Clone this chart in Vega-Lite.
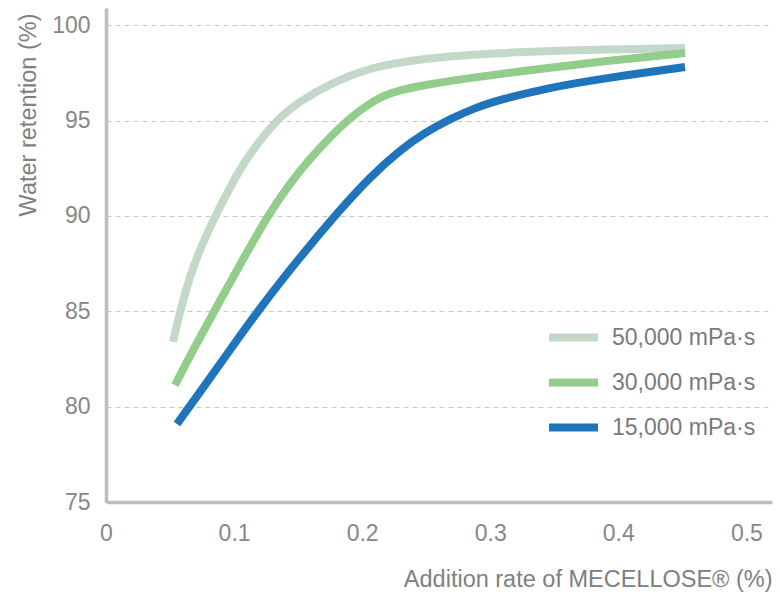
{
  "$schema": "https://vega.github.io/schema/vega-lite/v6.json",
  "width": 666,
  "height": 494,
  "autosize": {"type": "none"},
  "padding": {"left": 106, "top": 8, "right": 8, "bottom": 105},
  "background": "white",
  "config": {
    "view": {"stroke": null},
    "font": "Liberation Sans"
  },
  "data": {
    "values": [
      {"s": "50,000 mPa·s", "x": 0.0523, "y": 83.39},
      {"s": "50,000 mPa·s", "x": 0.0578, "y": 85.01},
      {"s": "50,000 mPa·s", "x": 0.0656, "y": 86.85},
      {"s": "50,000 mPa·s", "x": 0.0734, "y": 88.26},
      {"s": "50,000 mPa·s", "x": 0.0867, "y": 90.2},
      {"s": "50,000 mPa·s", "x": 0.1007, "y": 91.99},
      {"s": "50,000 mPa·s", "x": 0.1124, "y": 93.3},
      {"s": "50,000 mPa·s", "x": 0.1343, "y": 95.13},
      {"s": "50,000 mPa·s", "x": 0.1515, "y": 96.02},
      {"s": "50,000 mPa·s", "x": 0.1772, "y": 97.02},
      {"s": "50,000 mPa·s", "x": 0.2038, "y": 97.7},
      {"s": "50,000 mPa·s", "x": 0.2296, "y": 98.07},
      {"s": "50,000 mPa·s", "x": 0.2686, "y": 98.38},
      {"s": "50,000 mPa·s", "x": 0.3076, "y": 98.54},
      {"s": "50,000 mPa·s", "x": 0.3467, "y": 98.65},
      {"s": "50,000 mPa·s", "x": 0.3857, "y": 98.72},
      {"s": "50,000 mPa·s", "x": 0.4521, "y": 98.8},
      {"s": "30,000 mPa·s", "x": 0.0539, "y": 81.13},
      {"s": "30,000 mPa·s", "x": 0.0671, "y": 82.86},
      {"s": "30,000 mPa·s", "x": 0.0867, "y": 85.28},
      {"s": "30,000 mPa·s", "x": 0.107, "y": 87.74},
      {"s": "30,000 mPa·s", "x": 0.128, "y": 90.2},
      {"s": "30,000 mPa·s", "x": 0.1437, "y": 91.7},
      {"s": "30,000 mPa·s", "x": 0.1569, "y": 92.82},
      {"s": "30,000 mPa·s", "x": 0.1749, "y": 94.14},
      {"s": "30,000 mPa·s", "x": 0.1905, "y": 95.13},
      {"s": "30,000 mPa·s", "x": 0.2038, "y": 95.81},
      {"s": "30,000 mPa·s", "x": 0.2163, "y": 96.29},
      {"s": "30,000 mPa·s", "x": 0.2296, "y": 96.6},
      {"s": "30,000 mPa·s", "x": 0.253, "y": 96.92},
      {"s": "30,000 mPa·s", "x": 0.2842, "y": 97.23},
      {"s": "30,000 mPa·s", "x": 0.3311, "y": 97.65},
      {"s": "30,000 mPa·s", "x": 0.3857, "y": 98.09},
      {"s": "30,000 mPa·s", "x": 0.4521, "y": 98.54},
      {"s": "15,000 mPa·s", "x": 0.0554, "y": 79.09},
      {"s": "15,000 mPa·s", "x": 0.0734, "y": 80.77},
      {"s": "15,000 mPa·s", "x": 0.0968, "y": 82.97},
      {"s": "15,000 mPa·s", "x": 0.1202, "y": 85.17},
      {"s": "15,000 mPa·s", "x": 0.1515, "y": 87.84},
      {"s": "15,000 mPa·s", "x": 0.1811, "y": 90.2},
      {"s": "15,000 mPa·s", "x": 0.2061, "y": 92.04},
      {"s": "15,000 mPa·s", "x": 0.2296, "y": 93.45},
      {"s": "15,000 mPa·s", "x": 0.2491, "y": 94.37},
      {"s": "15,000 mPa·s", "x": 0.2686, "y": 95.08},
      {"s": "15,000 mPa·s", "x": 0.2881, "y": 95.66},
      {"s": "15,000 mPa·s", "x": 0.3076, "y": 96.1},
      {"s": "15,000 mPa·s", "x": 0.3467, "y": 96.73},
      {"s": "15,000 mPa·s", "x": 0.3857, "y": 97.18},
      {"s": "15,000 mPa·s", "x": 0.4521, "y": 97.81}
    ]
  },
  "mark": {"type": "line", "strokeWidth": 8, "interpolate": "basis", "strokeCap": "butt"},
  "encoding": {
    "x": {
      "field": "x",
      "type": "quantitative",
      "scale": {"domain": [0, 0.52], "nice": false, "zero": false},
      "axis": {
        "title": "Addition rate of MECELLOSE® (%)",
        "values": [0, 0.1, 0.2, 0.3, 0.4, 0.5],
        "format": "~g",
        "grid": false,
        "ticks": false,
        "domainColor": "#bdbdbd",
        "domainWidth": 3.5,
        "labelFont": "Liberation Sans",
        "labelFontSize": 23,
        "labelColor": "#878787",
        "labelPadding": 20,
        "labelFlush": false,
        "titleFont": "Liberation Sans",
        "titleFontSize": 23.5,
        "titleFontWeight": "normal",
        "titleColor": "#808080",
        "titleAlign": "right",
        "titleAnchor": "end",
        "titleBaseline": "alphabetic",
        "titleX": 666,
        "titleY": 84
      }
    },
    "y": {
      "field": "y",
      "type": "quantitative",
      "scale": {"domain": [75, 100.9], "nice": false, "zero": false},
      "axis": {
        "title": "Water retention (%)",
        "values": [75, 80, 85, 90, 95, 100],
        "grid": true,
        "gridColor": "#c8c8c8",
        "gridDash": [5, 4],
        "gridWidth": 1,
        "ticks": false,
        "domainColor": "#bdbdbd",
        "domainWidth": 3.5,
        "labelFont": "Liberation Sans",
        "labelFontSize": 23,
        "labelColor": "#878787",
        "labelPadding": 16,
        "titleFont": "Liberation Sans",
        "titleFontSize": 23.5,
        "titleFontWeight": "normal",
        "titleColor": "#808080",
        "titleAngle": -90,
        "titleAlign": "right",
        "titleBaseline": "middle",
        "titleX": -78,
        "titleY": 5
      }
    },
    "color": {
      "field": "s",
      "type": "nominal",
      "sort": ["50,000 mPa·s", "30,000 mPa·s", "15,000 mPa·s"],
      "scale": {
        "domain": ["50,000 mPa·s", "30,000 mPa·s", "15,000 mPa·s"],
        "range": ["#c3d8c9", "#92cd8b", "#1f74bb"]
      },
      "legend": {
        "title": null,
        "orient": "none",
        "legendX": 439,
        "legendY": 301,
        "symbolType": "stroke",
        "symbolSize": 2400,
        "symbolStrokeWidth": 8,
        "labelFont": "Liberation Sans",
        "labelFontSize": 23,
        "labelColor": "#7a7a7a",
        "labelOffset": 10,
        "rowPadding": -3,
        "labelLimit": 300
      }
    }
  }
}
